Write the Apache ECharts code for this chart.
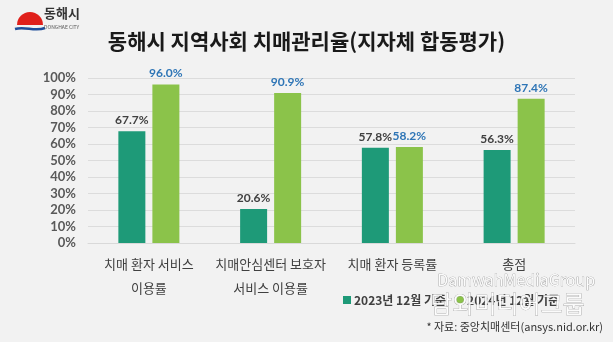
<!DOCTYPE html>
<html><head><meta charset="utf-8">
<script src="https://cdn.jsdelivr.net/npm/echarts@6/dist/echarts.min.js"></script>
<style>html,body{margin:0;padding:0;background:#f2f2f2;}#c{width:613px;height:342px;}</style>
</head><body><div id="c"></div>
<script>
const categories = ['치매 환자 서비스\n이용률', '치매안심센터 보호자\n서비스 이용률', '치매 환자 등록률', '총점'];
const series2023 = [67.7, 20.6, 57.8, 56.3];
const series2024 = [96.0, 90.9, 58.2, 87.4];
const seriesNames = ['2023년 12월 기준', '2024년 12월 기준'];
const yTicks = {min: 0, max: 100, interval: 10};

const FONT = '"Noto Sans CJK KR", "Noto Sans", sans-serif';
const NUMFONT = 'Lato, "Noto Sans CJK KR", sans-serif';
const chart = echarts.init(document.getElementById('c'), null, {renderer: 'canvas'});
chart.setOption({
  backgroundColor: '#f2f2f2',
  animation: false,
  textStyle: {fontFamily: FONT},
  title: {
    text: '동해시 지역사회 치매관리율(지자체 합동평가)',
    left: 'center', top: 26,
    textStyle: {fontFamily: FONT, fontSize: 21, fontWeight: 'bold', color: '#1a1a1a'}
  },
  legend: {
    data: seriesNames,
    left: 338, top: 289,
    itemWidth: 8, itemHeight: 8, itemGap: 10,
    icon: 'rect',
    textStyle: {fontFamily: FONT, fontSize: 12, fontWeight: 'bold', color: '#404040', padding: [0,0,0,-2]}
  },
  grid: {left: 88, right: 38, top: 78, bottom: 99},
  xAxis: {
    type: 'category', data: categories,
    axisLine: {show: true, lineStyle: {color: '#d9d9d9'}},
    axisTick: {show: false},
    axisLabel: {fontFamily: FONT, fontSize: 13, color: '#404040', lineHeight: 24, margin: 9, interval: 0}
  },
  yAxis: {
    type: 'value', min: yTicks.min, max: yTicks.max, interval: yTicks.interval,
    axisLine: {show: false}, axisTick: {show: false},
    splitLine: {lineStyle: {color: '#dcdcdc'}},
    axisLabel: {formatter: '{value}%', fontFamily: NUMFONT, fontSize: 13, fontWeight: 'bold', color: '#595959', margin: 12}
  },
  series: [
    {
      name: seriesNames[0], type: 'bar', data: series2023,
      barWidth: 27, barGap: '26%',
      itemStyle: {color: '#1e9a78'},
      label: {show: true, position: 'top', distance: 5, formatter: p => p.value.toFixed(1) + '%',
        fontFamily: NUMFONT, fontSize: 12, fontWeight: 'bold', color: '#404040'}
    },
    {
      name: seriesNames[1], type: 'bar', data: series2024,
      barWidth: 27,
      itemStyle: {color: '#8bc34a'},
      label: {show: true, position: 'top', distance: 5, formatter: p => p.value.toFixed(1) + '%',
        fontFamily: NUMFONT, fontSize: 12, fontWeight: 'bold', color: '#2e75b6'}
    }
  ],
  graphic: [
    {type: 'sector', shape: {cx: 30, cy: 25, r: 13, startAngle: Math.PI, endAngle: 2 * Math.PI}, style: {fill: '#e0201b'}},
    {type: 'bezierCurve', shape: {x1: 15, y1: 29, cpx1: 25, cpy1: 26, cpx2: 35, cpy2: 32, x2: 45, y2: 28}, style: {stroke: '#1f4e9a', lineWidth: 2.5, fill: null}},
    {type: 'text', left: 44, top: 7, style: {text: '동해시', fontFamily: FONT, fontSize: 13, fontWeight: 'bold', fill: '#333'}},
    {type: 'text', left: 44, top: 25, style: {text: 'DONGHAE CITY', fontFamily: FONT, fontSize: 5, fill: '#555'}},
    {type: 'text', right: 10, top: 321, style: {text: '* 자료: 중앙치매센터(ansys.nid.or.kr)', fontFamily: FONT, fontSize: 11, fill: '#333'}},
    {type: 'text', left: 437, top: 272, z: 100, style: {text: 'DamwahMediaGroup', fontFamily: FONT, fontSize: 16, fill: 'rgba(255,255,255,0.9)', stroke: 'rgba(120,120,120,0.8)', lineWidth: 0.6}},
    {type: 'text', left: 430, top: 292, z: 100, style: {text: '담와미디어그룹', fontFamily: FONT, fontSize: 24, fill: 'rgba(255,255,255,0.9)', stroke: 'rgba(120,120,120,0.8)', lineWidth: 0.6}}
  ]
});
</script>
</body></html>
